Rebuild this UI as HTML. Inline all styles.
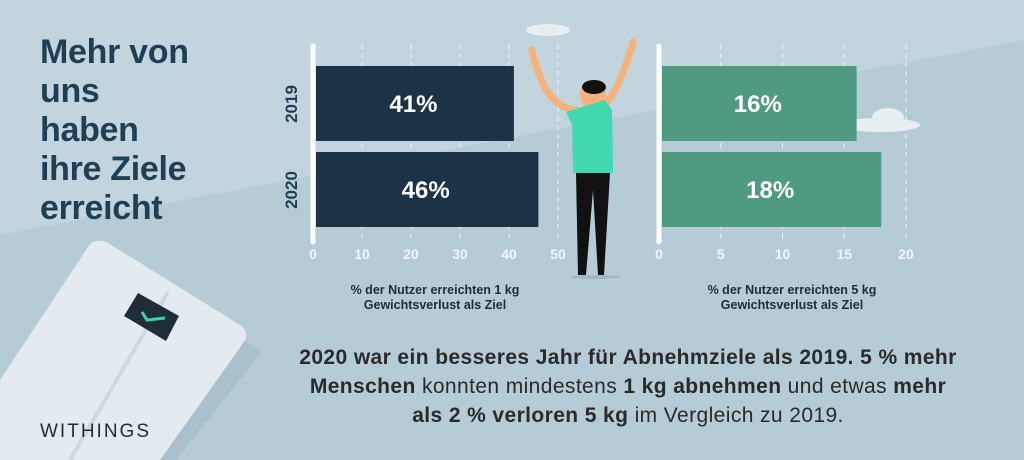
<!DOCTYPE html>
<html><head><meta charset="utf-8"><style>
body{margin:0}
#root{position:relative;width:1024px;height:460px;overflow:hidden;background:#b5cbd6;font-family:"Liberation Sans",sans-serif}
svg{position:absolute;left:0;top:0}
</style></head><body>
<div id="root">
<svg width="1024" height="460" id="svg">
<polygon points="0,0 1024,0 1024,40 0,235" fill="#c2d5df"/>
<g>
<polygon points="100,248 262,352 176,460 0,460 0,390" fill="#a9c1cd"/>
<path d="M90,244 Q98,238 108,243 L240,325 Q250,332 244,342 L160,460 L0,460 L0,380 Z" fill="#e3ebf1"/>
<line x1="168" y1="292" x2="70" y2="460" stroke="#cbd9e2" stroke-width="4"/>
<polygon points="138,293 179,316 166,341 124,316" fill="#1e2d38"/>
<polyline points="142,312 147,320 165,318" fill="none" stroke="#3fd4ad" stroke-width="3"/>
</g>
<g id="clouds" fill="#e8eff3">
<ellipse cx="548" cy="30" rx="22" ry="6"/><ellipse cx="880" cy="125" rx="40" ry="7"/><ellipse cx="888" cy="118" rx="16" ry="10"/>
</g>
<g id="left"></g>
<g id="right"></g>
<g>
<path d="M532,50 Q545,110 578,110" stroke="#f7b27c" stroke-width="7" fill="none" stroke-linecap="round"/>
<path d="M633,42 Q620,90 602,108" stroke="#f7b27c" stroke-width="7" fill="none" stroke-linecap="round"/>
<ellipse cx="593" cy="95" rx="13" ry="14" fill="#f7b27c"/>
<ellipse cx="594" cy="87" rx="12" ry="7" fill="#111"/>
<path d="M566,112 L578,108 L605,100 L612,110 L613,173 L573,173 L572,125 Z" fill="#42d9b0"/>
<path d="M576,173 L610,173 L604,275 L598,275 L593,190 L586,275 L578,275 Z" fill="#111"/>
<ellipse cx="595" cy="277" rx="25" ry="2" fill="#9fb8c4"/>
</g>
</svg>
<div style="position:absolute;left:40px;top:33px;font-size:34px;font-weight:bold;line-height:39px;color:#1f3f55;letter-spacing:-0.3px">Mehr von<br>uns<br>haben<br>ihre Ziele<br>erreicht</div>
<div style="position:absolute;left:40px;top:421px;font-size:19px;letter-spacing:2px;color:#1e2d38">WITHINGS</div>
<div style="position:absolute;left:300px;top:283px;width:270px;text-align:center;font-size:12.5px;font-weight:bold;color:#1e2d38;line-height:15px">% der Nutzer erreichten 1 kg<br>Gewichtsverlust als Ziel</div>
<div style="position:absolute;left:657px;top:283px;width:270px;text-align:center;font-size:12.5px;font-weight:bold;color:#1e2d38;line-height:15px">% der Nutzer erreichten 5 kg<br>Gewichtsverlust als Ziel</div>
<div style="position:absolute;left:294px;top:343px;width:668px;text-align:center;font-size:21px;letter-spacing:0.4px;line-height:29px;color:#2a2a2a"><b>2020 war ein besseres Jahr für Abnehmziele als 2019. 5 % mehr Menschen</b> konnten mindestens <b>1 kg abnehmen</b> und etwas <b>mehr als 2 % verloren 5 kg</b> im Vergleich zu 2019.</div>
</div>
<script>
const years=["2019","2020"];
const leftValues=[41,46];
const rightValues=[16,18];
const leftTicks=[0,10,20,30,40,50];
const rightTicks=[0,5,10,15,20];
const NS="http://www.w3.org/2000/svg";
function mk(p,t,a){const e=document.createElementNS(NS,t);for(const k in a)e.setAttribute(k,a[k]);p.appendChild(e);return e;}
function chart(g,x0,pxPer,vals,ticks,color,showYears){
  const xs=v=>x0+v*pxPer;
  const bandY=i=>66+i*86;
  ticks.forEach(t=>{
    if(t>0){const l=mk(g,'line',{x1:xs(t),x2:xs(t),y1:44,y2:242,stroke:'#eef4f7','stroke-width':1,'stroke-dasharray':'5,4'});
    
    }
    const tx=mk(g,'text',{x:xs(t),y:259,'text-anchor':'middle','font-size':14,'font-weight':'bold',fill:'#f2f6f8','font-family':'Liberation Sans, sans-serif'});
    tx.textContent=t;
    
    
  });
  vals.forEach((v,i)=>{
    const r=mk(g,'rect',{x:x0+3,y:bandY(i),width:xs(v)-x0-3,height:75,fill:color});
    
    
    const t=mk(g,'text',{x:(x0+xs(v))/2,y:bandY(i)+46,'text-anchor':'middle','font-size':24,'font-weight':'bold',fill:'#fff','font-family':'Liberation Sans, sans-serif'});
    t.textContent=v+'%';
    
    
    if(showYears){
      const y=mk(g,'text',{x:0,y:0,'text-anchor':'middle','font-size':17,'font-weight':'bold',fill:'#1f3f55','font-family':'Liberation Sans, sans-serif',transform:`translate(297,${bandY(i)+38}) rotate(-90)`});
      y.textContent=years[i];
      
      
    }
  });
  const ax=mk(g,'line',{x1:x0,x2:x0,y1:46,y2:242,stroke:'#fff','stroke-width':5,'stroke-linecap':'round'});
  
  
}
chart(document.getElementById('left'),313,4.9,leftValues,leftTicks,'#1c3246',true);
chart(document.getElementById('right'),659,12.35,rightValues,rightTicks,'#4f9a80',false);
</script>
</body></html>
